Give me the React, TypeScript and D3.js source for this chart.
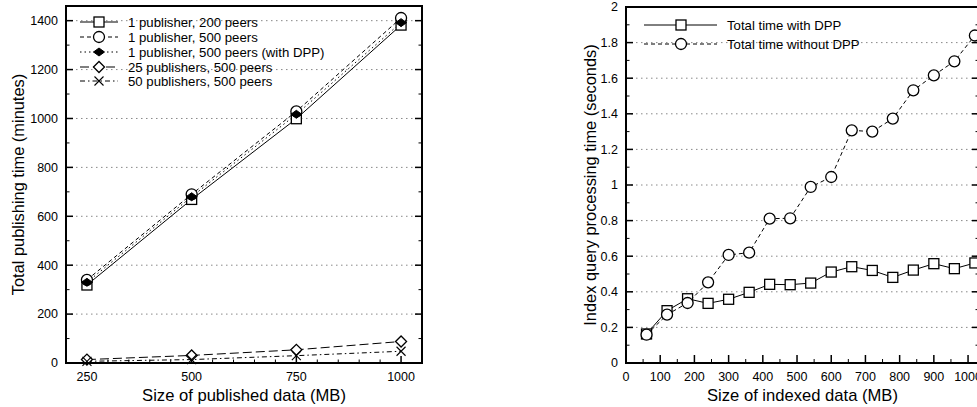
import React from "react";
import * as d3 from "d3";

// ---------- data ----------
const pubSizes = [250, 500, 750, 1000];
const pub1Peers200 = [319, 669, 999, 1382];
const pub1Peers500 = [340, 690, 1029, 1411];
const pub1Peers500Dpp = [330, 680, 1017, 1392];
const pub25Peers500 = [14, 31, 54, 88];
const pub50Peers500 = [7, 14, 30, 48];
const leftLegend = [
  "1 publisher, 200 peers",
  "1 publisher, 500 peers",
  "1 publisher, 500 peers (with DPP)",
  "25 publishers, 500 peers",
  "50 publishers, 500 peers",
];
const leftXTicks = [250, 500, 750, 1000];
const leftYTicks = [0, 200, 400, 600, 800, 1000, 1200, 1400];

const idxSizes = [60, 120, 180, 240, 300, 360, 420, 480, 540, 600, 660, 720, 780, 840, 900, 960, 1020];
const timeWithDpp = [0.163, 0.294, 0.361, 0.335, 0.358, 0.397, 0.442, 0.44, 0.449, 0.511, 0.541, 0.52, 0.481, 0.522, 0.558, 0.53, 0.562];
const timeWithoutDpp = [0.159, 0.272, 0.337, 0.453, 0.607, 0.62, 0.811, 0.813, 0.989, 1.045, 1.307, 1.3, 1.373, 1.532, 1.616, 1.695, 1.84];
const rightLegend = ["Total time with DPP", "Total time without DPP"];
const rightXTicks = [0, 100, 200, 300, 400, 500, 600, 700, 800, 900, 1000];
const rightYTicks = [0, 0.2, 0.4, 0.6, 0.8, 1, 1.2, 1.4, 1.6, 1.8, 2];

const FONT = "'Liberation Sans', Arial, Helvetica, sans-serif";

type MarkerKind = "square" | "circle" | "fdiamond" | "diamond" | "cross";

function Marker({ kind, x, y, s = 1 }: { kind: MarkerKind; x: number; y: number; s?: number }) {
  const st = { stroke: "#000", strokeWidth: 1.3 };
  if (kind === "square") {
    const h = 5 * s;
    return <rect x={x - h} y={y - h} width={2 * h} height={2 * h} fill="#fff" {...st} />;
  }
  if (kind === "circle") return <circle cx={x} cy={y} r={5.5 * s} fill="#fff" {...st} />;
  if (kind === "fdiamond") {
    const w = 5.5, h = 4;
    return <path d={`M${x - w},${y}L${x},${y - h}L${x + w},${y}L${x},${y + h}Z`} fill="#000" stroke="#000" strokeWidth={1} />;
  }
  if (kind === "diamond") {
    const w = 5.5, h = 5.5;
    return <path d={`M${x - w},${y}L${x},${y - h}L${x + w},${y}L${x},${y + h}Z`} fill="#fff" {...st} />;
  }
  const c = 4.5;
  return <path d={`M${x - c},${y - c}L${x + c},${y + c}M${x - c},${y + c}L${x + c},${y - c}`} fill="none" stroke="#000" strokeWidth={1.1} />;
}

interface Series { values: number[]; dash: string; marker: MarkerKind; }

function Panel(props: {
  xs: number[];
  series: Series[];
  legend: string[];
  x: d3.ScaleLinear<number, number>;
  y: d3.ScaleLinear<number, number>;
  xTicks: number[];
  xMinor: number[];
  yTicks: number[];
  yMinor: number[];
  yFmt: (v: number) => string;
  xTitle: string;
  yTitle: string;
  yTitleX: number;
  legendX: [number, number, number, number];
  legendY: number[];
  xMajorLen: number;
  xMinorLen: number;
}) {
  const { x, y } = props;
  const [x0, x1] = x.range();
  const [y0, y1] = y.range();
  const line = (vals: number[]) =>
    d3.line<number>().x((_, i) => x(props.xs[i])).y((v) => y(v))(vals) || "";
  return (
    <g fontFamily={FONT}>
      {/* grid */}
      {props.yTicks.slice(1).map((t) => (
        <line key={"g" + t} x1={x0} x2={x1} y1={y(t)} y2={y(t)} stroke="#888" strokeWidth={1} strokeDasharray="1.5,3.5" />
      ))}
      {/* ticks */}
      {props.yTicks.map((t) => (
        <g key={"yt" + t}>
          <line x1={x0} x2={x0 + 7} y1={y(t)} y2={y(t)} stroke="#000" strokeWidth={1.5} />
          <line x1={x1} x2={x1 - 7} y1={y(t)} y2={y(t)} stroke="#000" strokeWidth={1.5} />
          <text x={x0 - 8} y={y(t)} dy="0.35em" textAnchor="end" fontSize={12.5}>{props.yFmt(t)}</text>
        </g>
      ))}
      {props.yMinor.map((t) => (
        <g key={"ym" + t}>
          <line x1={x0} x2={x0 + 3.5} y1={y(t)} y2={y(t)} stroke="#000" strokeWidth={1} />
          <line x1={x1} x2={x1 - 3.5} y1={y(t)} y2={y(t)} stroke="#000" strokeWidth={1} />
        </g>
      ))}
      {props.xTicks.map((t) => (
        <g key={"xt" + t}>
          <line x1={x(t)} x2={x(t)} y1={y0} y2={y0 - props.xMajorLen} stroke="#000" strokeWidth={1.5} />
          <text x={x(t)} y={y0 + 18} textAnchor="middle" fontSize={12.5}>{t}</text>
        </g>
      ))}
      {props.xMinor.map((t) => (
        <line key={"xm" + t} x1={x(t)} x2={x(t)} y1={y0} y2={y0 - props.xMinorLen} stroke="#000" strokeWidth={1} />
      ))}
      {/* series lines */}
      {props.series.map((s, i) => (
        <path key={"l" + i} d={line(s.values)} fill="none" stroke="#000" strokeWidth={1} strokeDasharray={s.dash} />
      ))}
      {props.series.map((s, i) =>
        s.values.map((v, j) => <Marker key={`m${i}-${j}`} kind={s.marker} x={x(props.xs[j])} y={y(v)} />)
      )}
      {/* legend */}
      {props.legend.map((lab, i) => {
        const [la, lb, mx, tx] = props.legendX;
        const ly = props.legendY[i];
        const s = props.series[i];
        return (
          <g key={"lg" + i}>
            <line x1={la} x2={lb} y1={ly} y2={ly} stroke="#000" strokeWidth={1} strokeDasharray={s.dash} />
            <Marker kind={s.marker} x={mx} y={ly} />
            <text x={tx} y={ly} dy="0.35em" fontSize={13.2}>{lab}</text>
          </g>
        );
      })}
      {/* frame */}
      <rect x={x0} y={y1} width={x1 - x0} height={y0 - y1} fill="none" stroke="#000" strokeWidth={2} />
      {/* titles */}
      <text x={(x0 + x1) / 2} y={401} textAnchor="middle" fontSize={16.6}>{props.xTitle}</text>
      <text transform={`translate(${props.yTitleX},${(y0 + y1) / 2}) rotate(-90)`} textAnchor="middle" fontSize={16.4}>{props.yTitle}</text>
    </g>
  );
}

export default function App() {
  const xL = d3.scaleLinear().domain([200, 1050]).range([66, 422]);
  const yL = d3.scaleLinear().domain([0, 1460]).range([363, 6]);
  const xR = d3.scaleLinear().domain([0, 1032]).range([626, 979]);
  const yR = d3.scaleLinear().domain([0, 2.0]).range([363, 7]);

  const leftSeries: Series[] = [
    { values: pub1Peers200, dash: "none", marker: "square" },
    { values: pub1Peers500, dash: "4,3", marker: "circle" },
    { values: pub1Peers500Dpp, dash: "1.5,3", marker: "fdiamond" },
    { values: pub25Peers500, dash: "9,4", marker: "diamond" },
    { values: pub50Peers500, dash: "5,3,1.5,3", marker: "cross" },
  ];
  const rightSeries: Series[] = [
    { values: timeWithDpp, dash: "none", marker: "square" },
    { values: timeWithoutDpp, dash: "4,3", marker: "circle" },
  ];

  const lMinorX = d3.range(200, 1050, 50).filter((v) => !leftXTicks.includes(v));
  const lMinorY = d3.range(100, 1460, 200);
  const rMinorX = d3.range(50, 1032, 100);
  const rMinorY = d3.range(0.1, 2, 0.2);

  return (
    <div style={{ position: "fixed", left: 0, top: 0, width: 977, height: 407, background: "#fff" }}>
      <svg width={977} height={407} style={{ display: "block" }}>
        <rect width={977} height={407} fill="#fff" />
        <Panel
          xs={pubSizes}
          series={leftSeries}
          legend={leftLegend}
          x={xL}
          y={yL}
          xTicks={leftXTicks}
          xMinor={lMinorX}
          yTicks={leftYTicks}
          yMinor={lMinorY}
          yFmt={(v) => String(v)}
          xTitle="Size of published data (MB)"
          yTitle="Total publishing time (minutes)"
          yTitleX={24}
          legendX={[80, 118, 99, 128]}
          legendY={[22, 37, 52, 67, 81]}
          xMajorLen={7}
          xMinorLen={3.5}
        />
        <Panel
          xs={idxSizes}
          series={rightSeries}
          legend={rightLegend}
          x={xR}
          y={yR}
          xTicks={rightXTicks}
          xMinor={rMinorX}
          yTicks={rightYTicks}
          yMinor={rMinorY}
          yFmt={(v) => d3.format("~g")(v)}
          xTitle="Size of indexed data (MB)"
          yTitle="Index query processing time (seconds)"
          yTitleX={596}
          legendX={[644, 717, 681, 727]}
          legendY={[25, 44]}
          xMajorLen={8}
          xMinorLen={4}
        />
      </svg>
    </div>
  );
}
